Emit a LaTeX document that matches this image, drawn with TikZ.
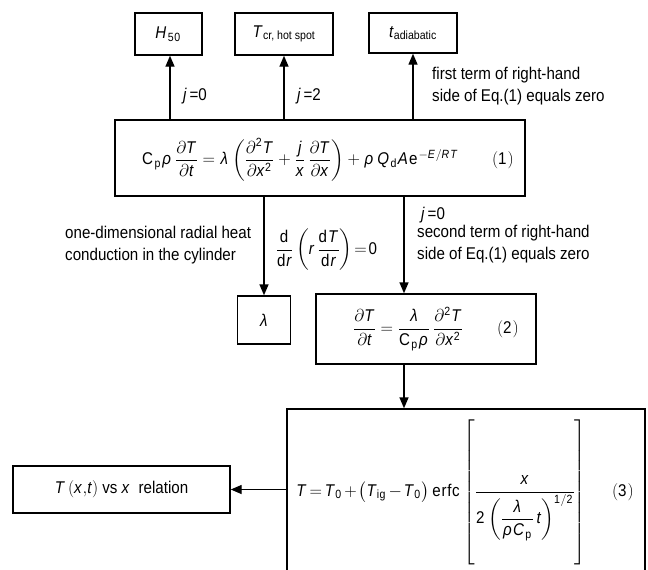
\documentclass[tikz,border=0pt]{standalone}
\usepackage{amsmath}
\usepackage{mathspec}
\setallmainfonts(Digits,Latin,Greek)[FakeStretch=0.89]{Liberation Sans}
\usetikzlibrary{arrows.meta}
\begin{document}
\begin{tikzpicture}[x=1pt,y=-1pt,
  every node/.style={font=\fontsize{17}{22}\selectfont, inner sep=0pt},
  box/.style={draw, line width=1.4pt},
  arr/.style={line width=1.4pt, -{Triangle[length=11pt,width=9pt]}},
  lbl/.style={align=left}]
\useasboundingbox (0,0) rectangle (648,570);
% top result boxes
\node[box, minimum width=67pt, minimum height=42pt] (h50) at (168.5,34) {$H_{50}$};
\node[box, minimum width=98pt, minimum height=42pt] (tcr) at (284,34) {$T_{\text{cr, hot spot}}$};
\node[box, minimum width=88pt, minimum height=40pt] (tad) at (413,33) {$t_{\text{adiabatic}}$};
% equation (1)
\node[box, minimum width=410pt, minimum height=76pt] (eq1) at (320,158) {};
\node (eq1t) at (328,160) {$\mathrm{C}_{\mathrm{p}}\rho\,\dfrac{\partial T}{\partial t}=\lambda\left(\dfrac{\partial^2 T}{\partial x^2}+\dfrac{j}{x}\,\dfrac{\partial T}{\partial x}\right)+\rho\,Q_{\mathrm{d}}A\mathrm{e}^{-E/RT}\qquad(1)$};
% lambda and equation (2)
\node[box, minimum width=53pt, minimum height=48pt] (lam) at (264,320) {$\lambda$};
\node[box, minimum width=220pt, minimum height=70pt] (eq2) at (426,329) {};
\node (eq2t) at (436,329) {$\dfrac{\partial T}{\partial t}=\dfrac{\lambda}{\mathrm{C}_{\mathrm{p}}\rho}\,\dfrac{\partial^2 T}{\partial x^2}\qquad(2)$};
% equation (3)
\node[box, minimum width=358pt, minimum height=200pt] (eq3) at (466,509) {};
\node (eq3t) at (465,492) {\thickmuskip=3mu\medmuskip=2mu$T=T_0+\bigl(T_{\mathrm{ig}}-T_0\bigr)\,\mathrm{erfc}\left[\vrule height 64pt depth 68pt width 0pt\dfrac{x}{2\left(\dfrac{\lambda}{\rho C_{\mathrm{p}}}\,t\right)^{1/2}}\right]\quad\;\;(3)$};
% T(x,t) box
\node[box, minimum width=217pt, minimum height=47pt] (txt) at (121.5,489.5) {$T\,(x{,}t)$ vs $x$\ \ relation};
% helper coordinates
\coordinate (c1) at (170,0);
\coordinate (c2) at (404,0);
% arrows
\draw[arr] (eq1.north -| c1) -- (h50.south -| c1);
\draw[arr] (eq1.north -| tcr.south) -- (tcr.south);
\draw[arr] (eq1.north -| tad.south) -- (tad.south);
\draw[arr] (eq1.south -| lam.north) -- (lam.north);
\draw[arr] (eq1.south -| c2) -- (eq2.north -| c2);
\draw[arr] (eq2.south -| c2) -- (eq3.north -| c2);
\draw[arr] (eq3.west |- txt.east) -- (txt.east);
% labels
\node (l1) at (195,96) {\textit{j}\,=0};
\node (l2) at (309,96) {\textit{j}\,=2};
\node[lbl, anchor=west] (l3) at (432,86) {first term of right-hand\\side of Eq.(1) equals zero};
\node[lbl, anchor=west] (l4) at (65,245) {one-dimensional radial heat\\conduction in the cylinder};
\node (l5) at (327,250) {$\dfrac{\mathrm{d}}{\mathrm{d}r}\left(r\,\dfrac{\mathrm{d}T}{\mathrm{d}r}\right)\!=\!0$};
\node[anchor=west] (l6) at (421,215) {\textit{j}\,=0};
\node[lbl, anchor=west] (l7) at (417,244) {second term of right-hand\\side of Eq.(1) equals zero};
\end{tikzpicture}
\end{document}
